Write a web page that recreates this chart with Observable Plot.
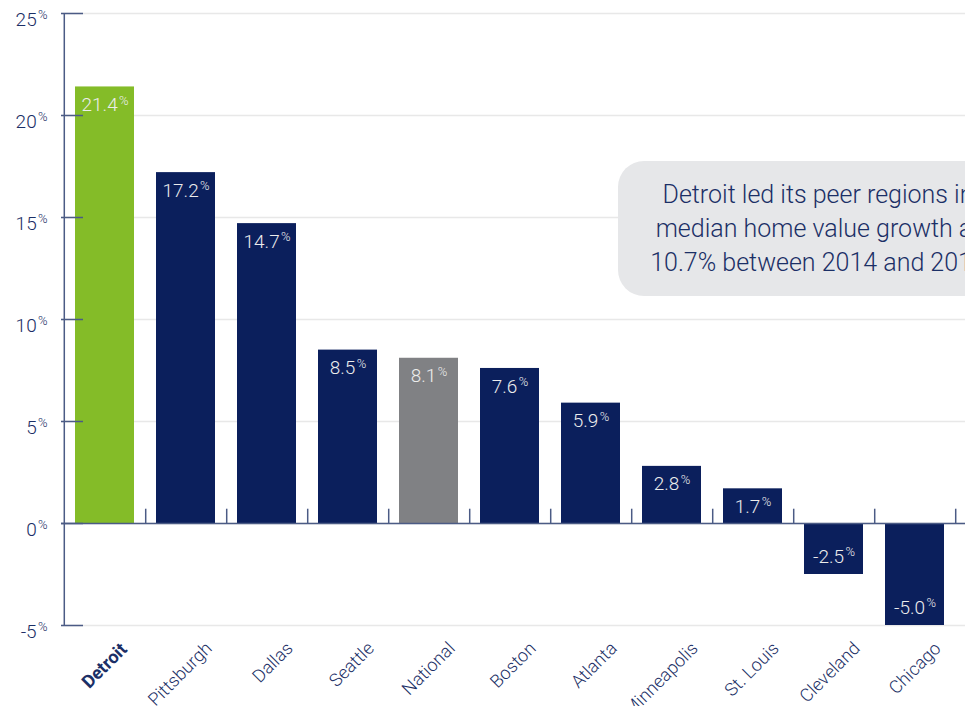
<!DOCTYPE html>
<html><head><meta charset="utf-8">
<script src="https://cdn.jsdelivr.net/npm/d3@7"></script>
<script src="https://cdn.jsdelivr.net/npm/@observablehq/plot@0.6"></script>
<style>
body{margin:0;background:#fff;}
#wrap{position:relative;width:965px;height:706px;overflow:hidden;font-family:"Roboto Light",Roboto,"Liberation Sans",sans-serif;}
#callout{position:absolute;left:618px;top:161px;width:400px;height:135px;background:#e6e7e9;border-radius:26px;color:#1b2f66;font-size:25px;font-weight:300;line-height:34px;text-align:center;display:flex;align-items:center;justify-content:center;white-space:nowrap;}
</style></head><body>
<div id="wrap"><div id="chart"></div><div id="callout"></div></div>
<script>
const regions = ["Detroit","Pittsburgh","Dallas","Seattle","National","Boston","Atlanta","Minneapolis","St. Louis","Cleveland","Chicago"];
const growth = [21.4, 17.2, 14.7, 8.5, 8.1, 7.6, 5.9, 2.8, 1.7, -2.5, -5.0];
const yTicks = [-5, 0, 5, 10, 15, 20, 25];
const calloutLines = ["Detroit led its peer regions in", "median home value growth at", "10.7% between 2014 and 2017"];

document.getElementById("callout").innerHTML = calloutLines.join("<br>");

const data = regions.map((r, i) => ({region: r, value: growth[i]}));
const navy = "#0b1f5c", green = "#84bc28", gray = "#808184";
const textNavy = "#1b2f66", axisColor = "#4b5b85";
const W = 965, H = 706, mL = 61, mT = 13, mB = 81;
const x0 = 61.5, x1 = 957;
const step = (x1 - x0) / regions.length;
const pad = 0.275;
const fillOf = d => d.region === "Detroit" ? green : d.region === "National" ? gray : navy;

const svg = Plot.plot({
  width: W, height: H, marginLeft: mL, marginRight: 0, marginTop: mT, marginBottom: mB,
  style: {background: "transparent", fontFamily: "'Roboto Light', Roboto, 'Liberation Sans', sans-serif", fontWeight: 300},
  x: {type: "band", domain: regions, range: [x0, x1], paddingInner: pad, paddingOuter: pad / 2, axis: null},
  y: {domain: [-5, 25], axis: null},
  marks: [
    Plot.ruleY(yTicks, {y: d => d, stroke: "#e8e8e8", strokeWidth: 1.5}),
    Plot.barY(data, {x: "region", y: "value", fill: fillOf}),
    Plot.ruleY([0], {stroke: axisColor, strokeWidth: 1.5}),
    Plot.ruleY(yTicks, {y: d => d, stroke: axisColor, strokeWidth: 1.5, insetRight: W - mL - 22}),
    Plot.ruleX([regions[0]], {x: d => d, dx: -step / 2, stroke: axisColor, strokeWidth: 1.5}),
    Plot.ruleX(regions, {x: d => d, dx: step / 2, y1: 0, y2: 0.7, stroke: axisColor, strokeWidth: 1.5}),
    Plot.text(yTicks, {y: d => d, text: d => d + "%", frameAnchor: "left", textAnchor: "end", dx: -14, dy: 6, fill: textNavy, fontSize: 19}),
    Plot.text(data.filter(d => d.value >= 0), {x: "region", y: "value", text: d => d.value.toFixed(1) + "%", dy: 18, fill: "#ececec", fontSize: 19}),
    Plot.text(data.filter(d => d.value < 0), {x: "region", y: "value", text: d => d.value.toFixed(1) + "%", dy: -18, fill: "#ececec", fontSize: 19}),
    Plot.text(data.filter(d => d.region !== "Detroit"), {x: "region", text: "region", frameAnchor: "bottom", rotate: -45, textAnchor: "end", dx: 27, dy: 24, fill: textNavy, fontSize: 18}),
    Plot.text(data.filter(d => d.region === "Detroit"), {x: "region", text: "region", frameAnchor: "bottom", rotate: -45, textAnchor: "end", dx: 23, dy: 25, fill: textNavy, fontSize: 18, fontFamily: "Roboto, 'Liberation Sans', sans-serif", fontWeight: "bold"})
  ]
});

d3.select(svg).selectAll("text").each(function () {
  const m = this.textContent.match(/^(-?[\d.]+)%$/);
  if (!m) return;
  const s = d3.select(this);
  s.text(null);
  s.append("tspan").text(m[1]);
  s.append("tspan").attr("font-size", "0.68em").attr("dx", "0.1em").attr("dy", "-0.5em").text("%");
});

document.getElementById("chart").appendChild(svg);
</script>
</body></html>
